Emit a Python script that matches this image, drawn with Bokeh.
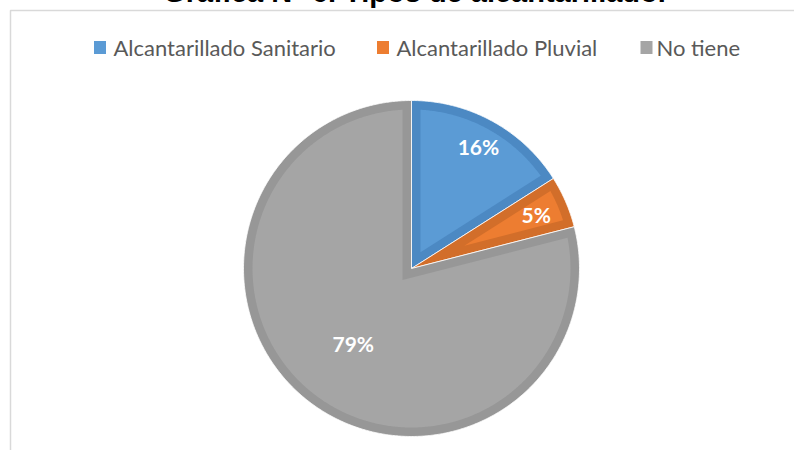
import numpy as np
from bokeh.plotting import figure
from bokeh.models import Range1d
from bokeh.core.properties import value
from bokeh.embed import file_html
from bokeh.resources import INLINE

# ---- data ----
categories = ["Alcantarillado Sanitario", "Alcantarillado Pluvial", "No tiene"]
percentages = [16, 5, 79]
title_text = "Gráfica N° 6. Tipos de alcantarillado."

# ---- style / layout ----
fill_colors = ["#5B9BD5", "#ED7D31", "#A5A5A5"]
border_colors = ["#4C89C3", "#D26E2A", "#979797"]
label_radius = [139, 136, 95]
W, H = 802, 458
OFF = 8  # observed canvas offset with the negative margins
cx, cy, R, bw = 411, 268, 168, 9

p = figure(width=W, height=H,
           x_range=Range1d(-OFF, W - OFF), y_range=Range1d(H - OFF, -OFF),
           output_backend="svg", toolbar_location=None, min_border=0,
           margin=(-8, -8, -8, -8))
p.axis.visible = False
p.grid.visible = False
p.outline_line_color = None
p.background_fill_color = "white"
p.border_fill_color = "white"


def pt(r, a):
    t = np.radians(a)
    return cx + r * np.sin(t), cy - r * np.cos(t)


total = float(sum(percentages))
angles = np.concatenate([[0], np.cumsum(percentages) / total * 360.0])

outer_xs, outer_ys, inner_xs, inner_ys = [], [], [], []
lx, ly, ltxt = [], [], []
for i, v in enumerate(percentages):
    a1, a2 = angles[i], angles[i + 1]
    arc = np.linspace(a1, a2, max(int((a2 - a1) * 2), 4))
    ox, oy = pt(R, arc)
    outer_xs.append([cx] + list(ox))
    outer_ys.append([cy] + list(oy))
    half = (a2 - a1) / 2.0
    d = bw / np.sin(np.radians(half))
    ax, ay = pt(d, a1 + half)
    Ri = R - bw
    dl = np.degrees(np.arcsin(bw / Ri))
    arc_i = np.linspace(a1 + dl, a2 - dl, max(int((a2 - a1) * 2), 4))
    ix, iy = pt(Ri, arc_i)
    inner_xs.append([ax] + list(ix))
    inner_ys.append([ay] + list(iy))
    tx, ty = pt(label_radius[i], a1 + half)
    lx.append(tx)
    ly.append(ty)
    ltxt.append(f"{v}%")

p.patches(outer_xs, outer_ys, fill_color=border_colors, line_color="white",
          line_width=0.8)
p.patches(inner_xs, inner_ys, fill_color=fill_colors, line_color=None)

p.text(lx, ly, text=ltxt, text_color="white", text_font=value("Lato"),
       text_font_style="bold", text_font_size="21px", text_align="center",
       text_baseline="middle")

# chart area frame (only left and top edges visible)
p.line([10, 10, W], [H, 10, 10], line_color="#D9D9D9", line_width=1.5)

# title (clipped at top of the window)
p.text([414], [-9], text=[title_text], text_color="black",
       text_font=value("Liberation Sans"), text_font_style="bold",
       text_font_size="29px", text_align="center", text_baseline="middle")

# legend
leg_sq_x = [99.5, 382.5, 646]
leg_tx_x = [113, 396, 656]
p.rect(leg_sq_x, [47] * 3, width=12, height=13, fill_color=fill_colors,
       line_color=None)
p.text(leg_tx_x, [47] * 3, text=categories, text_color="#595959",
       text_font=value("Lato"), text_font_size="22px", text_align="left",
       text_baseline="middle")

open("out.html", "w").write(file_html(p, INLINE))
